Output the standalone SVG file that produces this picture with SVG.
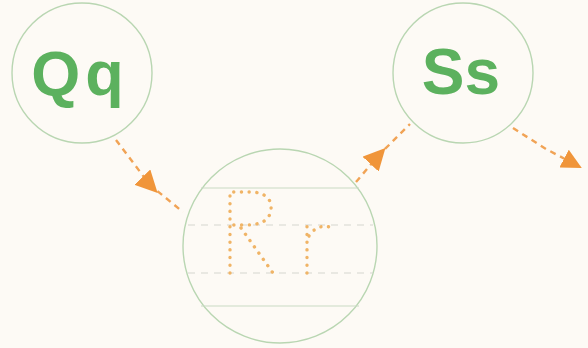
<svg xmlns="http://www.w3.org/2000/svg" width="588" height="348" viewBox="0 0 588 348">
<defs>
<style>
.ring{fill:none;stroke:#b9d6b2;stroke-width:1.4}
.big{font-family:"Liberation Sans",Arial,sans-serif;font-weight:bold;fill:#5cb15e}
.conn{fill:none;stroke:#f1a355;stroke-width:2.4;stroke-dasharray:6 5}
.rule{stroke:#c9d9c4;stroke-width:1.1}
.rdash{stroke:#d6d6d0;stroke-width:1.1;stroke-dasharray:7 6}
.dots{fill:none;stroke:#f0b466;stroke-width:3.4;stroke-linecap:round;stroke-dasharray:0.1 7.6}
</style>
<marker id="ahm" viewBox="0 0 10 10" refX="5" refY="5" markerWidth="22" markerHeight="22" markerUnits="userSpaceOnUse" orient="auto">
<path d="M0,0 L10,5 L0,10 Z" fill="#f0953a"/>
</marker>
<marker id="ahe" viewBox="0 0 10 10" refX="9" refY="5" markerWidth="20" markerHeight="20" markerUnits="userSpaceOnUse" orient="auto">
<path d="M0,0 L10,5 L0,10 Z" fill="#f0953a"/>
</marker>
</defs>
<rect width="588" height="348" fill="#fdfaf5"/>
<g id="connectors">
<polyline class="conn" points="116,140 150,185 183,212" marker-mid="url(#ahm)"/>
<polyline class="conn" points="356,182 378,156 410,124" marker-mid="url(#ahm)"/>
<polyline class="conn" points="513,128 546,149 580,167" marker-end="url(#ahe)"/>
</g>
<g id="node-qq">
<circle class="ring" cx="82" cy="73" r="70"/>
<text class="big" x="80" y="95" font-size="63" text-anchor="middle" letter-spacing="5">Qq</text>
</g>
<g id="node-rr">
<circle class="ring" cx="280" cy="246" r="97"/>
<line class="rule" x1="201" y1="188" x2="359" y2="188"/>
<line class="rule" x1="201" y1="306" x2="359" y2="306"/>
<line class="rdash" x1="188" y1="225" x2="373" y2="225"/>
<line class="rdash" x1="188" y1="273" x2="373" y2="273"/>
<path class="dots" d="M230,273 L230,192 L250,192 C266,192 272,200 271,209 C270,220 262,225 245,225 L230,225"/>
<path class="dots" d="M241,228 L273,273"/>
<path class="dots" d="M307,273 L307,226"/>
<path class="dots" d="M309,236 C314,228 322,224 333,228"/>
</g>
<g id="node-ss">
<circle class="ring" cx="463" cy="73" r="70"/>
<text class="big" x="461" y="94" font-size="64" text-anchor="middle" letter-spacing="0">Ss</text>
</g>
</svg>
